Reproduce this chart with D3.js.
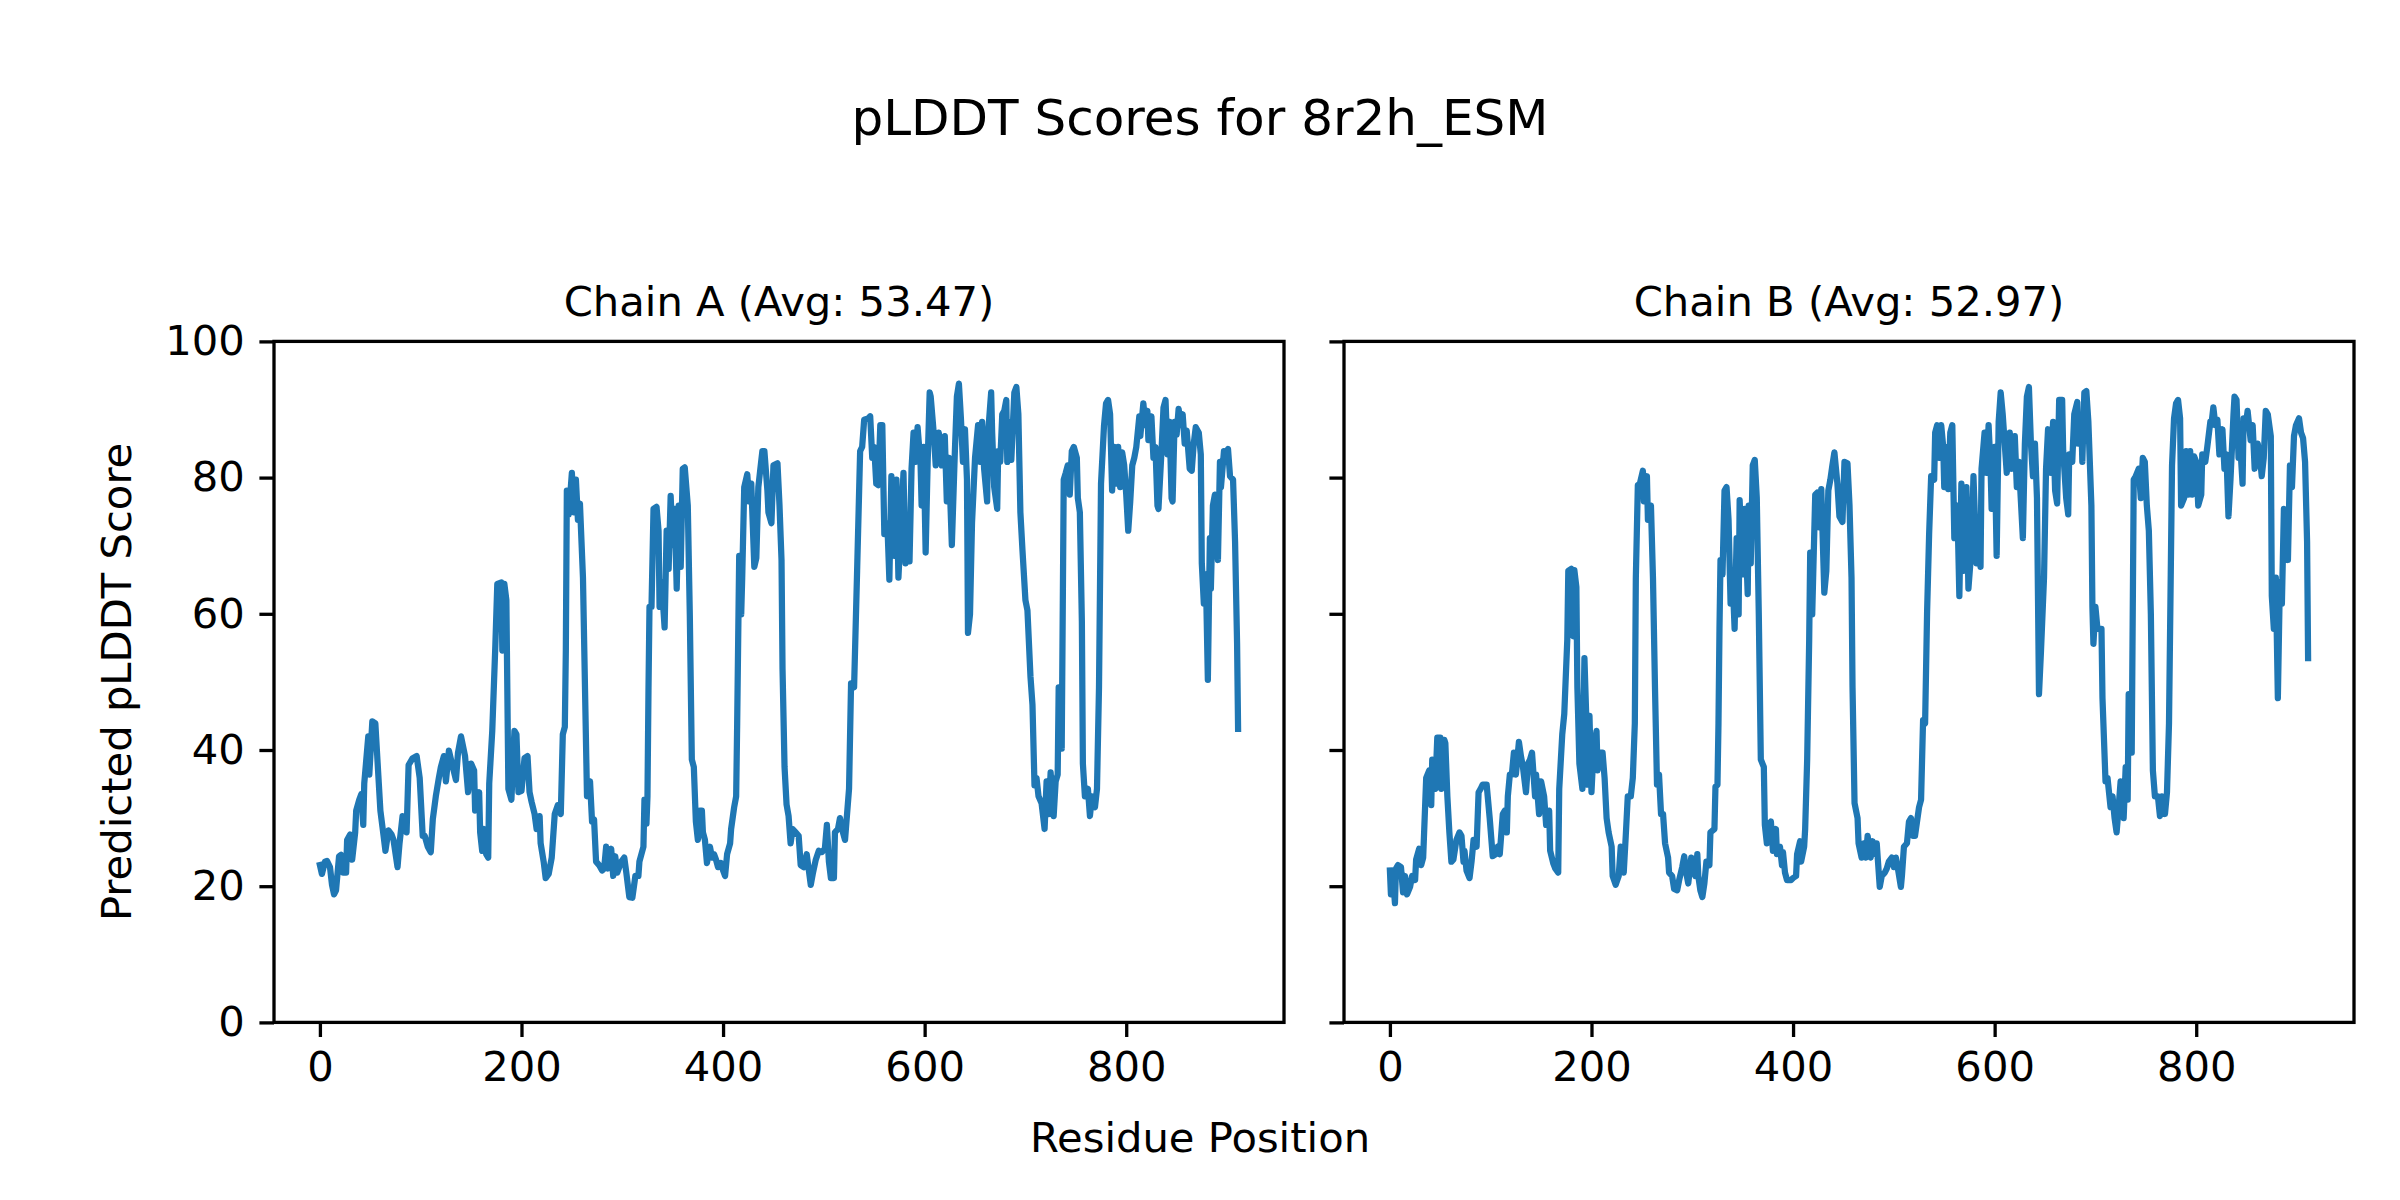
<!DOCTYPE html>
<html><head><meta charset="utf-8">
<script src="https://cdn.jsdelivr.net/npm/d3@7"></script>
<style>
body{margin:0;background:#fff}
svg{display:block}
text{font-family:"DejaVu Sans",sans-serif;fill:#000}
</style>
</head><body>
<svg id="chart" width="2400" height="1200"></svg>
<script>
// ---- data (residue position, predicted pLDDT score) ----
const chainAData = [[0,23.1],[2,21.8],[5,23.6],[7,23.7],[10,22.8],[12,20.2],[14,18.8],[16,19.4],[19,24.4],[21,24.6],[23,22.0],[26,22.0],[27,26.8],[30,27.6],[32,23.9],[35,27.9],[36,31.1],[39,32.7],[41,33.5],[43,29.0],[44,35.1],[48,42.0],[49,36.4],[52,44.2],[55,43.9],[58,36.2],[60,31.1],[63,27.6],[65,25.2],[68,28.2],[71,27.6],[73,26.8],[77,22.8],[79,26.3],[82,30.3],[86,27.9],[88,37.8],[92,38.8],[96,39.1],[99,35.9],[102,27.4],[104,27.4],[107,25.8],[110,25.0],[112,29.8],[115,33.2],[118,35.9],[120,37.5],[123,39.1],[125,35.4],[128,39.9],[131,38.0],[135,35.6],[137,39.6],[140,42.0],[144,39.1],[147,33.8],[150,38.0],[153,37.0],[154,31.1],[158,33.8],[159,27.9],[161,25.2],[163,28.4],[165,24.7],[167,24.2],[168,35.1],[171,42.8],[174,55.1],[176,64.4],[180,64.6],[181,54.6],[183,64.4],[185,62.0],[187,34.3],[190,32.7],[193,42.8],[195,42.3],[197,33.8],[200,34.0],[203,38.8],[206,39.1],[208,33.8],[210,32.4],[213,30.6],[215,28.4],[218,30.3],[219,26.3],[222,23.6],[224,21.2],[227,21.8],[230,24.2],[233,30.6],[236,31.9],[239,30.6],[241,42.3],[243,43.4],[244,54.6],[245,78.1],[247,74.6],[250,80.7],[252,74.9],[254,79.7],[256,73.8],[258,76.2],[261,65.3],[263,49.2],[265,33.2],[268,35.4],[270,29.5],[272,29.8],[274,23.6],[277,23.1],[280,22.3],[282,22.6],[284,25.8],[286,22.6],[289,25.5],[291,21.5],[293,24.4],[295,22.0],[299,23.6],[302,24.2],[304,22.0],[307,18.4],[310,18.3],[313,21.5],[316,21.5],[317,23.6],[321,25.8],[322,32.7],[324,29.2],[325,33.2],[326,48.7],[327,61.0],[329,61.0],[331,75.4],[334,75.7],[336,72.2],[337,61.0],[339,64.7],[342,58.0],[344,72.2],[346,66.6],[348,77.3],[350,70.1],[352,75.4],[354,63.7],[356,75.9],[358,66.9],[360,81.3],[362,81.5],[365,75.9],[367,59.9],[369,38.6],[371,37.5],[373,29.5],[375,26.8],[377,31.1],[379,31.1],[380,27.9],[382,26.8],[384,23.4],[387,25.8],[389,24.2],[391,24.7],[393,23.9],[395,22.8],[398,23.4],[400,22.3],[402,21.5],[404,24.7],[407,26.3],[408,28.4],[411,31.6],[413,33.2],[414,43.9],[415,56.2],[416,68.5],[418,59.9],[419,65.3],[421,78.6],[424,80.5],[426,76.5],[428,79.1],[431,66.9],[433,68.2],[435,78.6],[437,81.3],[439,83.9],[441,83.9],[444,78.1],[445,74.9],[448,73.3],[450,81.8],[454,82.1],[456,75.9],[458,67.9],[459,51.9],[461,37.5],[463,32.0],[465,30.3],[467,26.3],[469,28.4],[472,27.9],[475,27.4],[477,23.1],[480,22.8],[483,24.7],[487,20.2],[489,21.8],[492,23.9],[495,25.2],[498,25.0],[501,25.5],[503,29.0],[505,23.6],[507,21.2],[510,21.2],[511,27.9],[514,28.4],[516,30.0],[518,28.4],[521,26.8],[525,34.3],[527,49.8],[530,49.2],[533,66.3],[536,83.9],[538,84.5],[540,88.5],[544,88.7],[546,89.0],[548,82.9],[550,84.5],[552,79.1],[554,78.9],[556,87.7],[558,87.7],[560,71.7],[563,73.3],[565,65.0],[567,80.2],[570,68.5],[572,79.7],[574,65.3],[577,74.3],[579,80.7],[581,67.4],[583,72.2],[585,67.7],[587,81.3],[589,86.6],[591,82.3],[593,87.4],[596,81.8],[597,75.9],[599,84.5],[601,69.0],[603,82.3],[605,92.5],[606,91.9],[609,86.6],[611,81.8],[614,86.6],[617,81.8],[620,86.1],[622,76.5],[624,82.9],[627,70.1],[630,83.9],[632,91.9],[634,93.8],[636,88.7],[638,82.3],[640,87.1],[642,79.7],[643,57.2],[645,59.9],[647,73.3],[650,82.9],[653,87.7],[655,82.3],[657,88.2],[659,81.3],[662,76.5],[663,86.6],[666,92.5],[667,86.6],[669,78.6],[672,75.4],[673,83.9],[675,82.3],[677,89.3],[679,89.8],[681,91.4],[682,82.3],[685,88.2],[686,82.6],[689,92.5],[691,93.3],[693,89.3],[695,74.9],[697,69.5],[700,62.0],[702,60.5],[705,50.8],[707,46.6],[709,34.8],[711,35.9],[713,33.2],[716,32.2],[719,28.4],[721,35.4],[723,30.6],[725,36.7],[728,30.3],[730,35.4],[732,36.4],[733,49.2],[736,40.2],[738,79.7],[740,80.7],[742,81.8],[744,77.5],[746,83.9],[748,84.5],[751,82.9],[752,77.0],[754,74.9],[756,58.8],[757,38.0],[759,33.2],[762,34.3],[764,30.3],[766,33.2],[769,31.6],[771,34.3],[773,49.2],[775,79.1],[778,87.7],[780,90.9],[782,91.4],[784,89.3],[786,78.1],[788,84.5],[790,79.1],[792,84.5],[794,78.6],[796,83.7],[798,81.8],[800,77.5],[802,72.2],[804,76.5],[806,81.8],[808,82.9],[810,84.5],[813,89.0],[814,86.1],[817,90.9],[819,87.7],[821,89.8],[822,85.5],[825,89.0],[827,82.9],[829,84.5],[831,75.9],[832,75.4],[835,83.9],[837,90.3],[839,91.4],[841,83.4],[843,88.2],[845,77.0],[846,76.5],[848,88.2],[850,86.3],[852,90.1],[854,87.7],[856,89.3],[858,85.0],[860,86.9],[863,81.3],[865,81.0],[867,85.0],[869,87.4],[872,86.6],[874,83.4],[875,67.4],[877,61.5],[879,65.8],[881,50.3],[883,71.1],[884,63.7],[886,75.9],[888,77.5],[891,67.9],[893,82.3],[894,78.6],[897,83.9],[899,83.7],[901,84.2],[903,80.2],[906,79.7],[908,70.6],[910,55.6],[911,43.1]];

const chainBData = [[0,22.3],[1,18.8],[3,21.5],[5,17.5],[6,22.6],[8,23.1],[11,22.8],[13,19.1],[15,21.5],[17,18.8],[20,19.9],[22,21.5],[25,20.9],[26,23.9],[29,25.5],[31,23.1],[33,24.2],[36,35.9],[39,37.0],[41,31.9],[42,38.6],[45,34.3],[47,41.8],[50,41.8],[51,34.3],[54,41.5],[55,41.0],[57,33.2],[59,27.9],[61,23.6],[63,23.9],[66,26.8],[69,27.9],[71,27.4],[73,23.6],[74,25.2],[76,22.3],[79,21.2],[81,23.6],[83,26.8],[86,25.8],[88,33.8],[90,34.3],[92,34.9],[96,34.9],[99,30.0],[102,24.4],[105,24.7],[107,25.8],[109,24.7],[112,30.6],[114,31.1],[116,27.9],[117,33.2],[119,36.4],[121,36.4],[123,39.6],[125,36.4],[128,41.2],[130,39.1],[132,37.5],[135,33.8],[137,38.0],[139,38.6],[141,39.6],[144,33.2],[145,36.4],[148,30.6],[150,35.4],[153,33.2],[155,29.0],[158,31.1],[159,25.2],[162,23.4],[164,22.6],[167,22.0],[168,34.3],[171,42.3],[173,45.3],[176,56.2],[177,66.3],[180,66.6],[182,56.7],[183,66.4],[185,63.9],[186,49.2],[188,38.0],[191,34.3],[193,53.5],[195,43.9],[196,34.9],[198,45.0],[200,33.8],[202,39.9],[205,42.8],[206,37.0],[209,39.6],[211,39.6],[213,35.9],[215,30.0],[217,27.9],[220,25.8],[221,21.5],[224,20.2],[227,21.5],[229,25.8],[232,22.0],[234,27.4],[236,33.2],[239,33.2],[241,35.9],[243,43.9],[244,65.3],[246,78.9],[248,79.1],[251,81.0],[252,76.5],[255,80.2],[256,73.8],[259,75.9],[261,65.3],[263,49.2],[265,34.9],[267,36.4],[269,30.6],[271,30.6],[273,26.3],[276,24.2],[277,22.0],[280,21.5],[282,19.6],[285,19.4],[287,20.9],[290,22.8],[292,24.4],[294,22.0],[296,20.4],[299,24.2],[300,22.8],[303,21.5],[305,24.7],[306,21.5],[308,19.4],[310,18.4],[312,20.4],[314,23.6],[317,23.1],[318,27.9],[322,28.4],[323,34.6],[325,34.9],[326,43.9],[327,57.8],[328,67.9],[330,65.8],[332,78.1],[334,78.6],[336,73.8],[338,61.5],[340,65.3],[342,57.8],[344,71.1],[346,59.9],[347,76.7],[350,65.8],[352,75.4],[355,62.9],[356,75.9],[358,67.4],[360,81.8],[362,82.6],[364,77.0],[366,59.9],[368,38.6],[371,37.5],[372,29.0],[374,26.3],[376,29.0],[378,29.5],[380,25.2],[383,28.4],[384,24.7],[387,25.8],[389,23.1],[390,25.0],[392,22.0],[394,20.9],[398,20.9],[400,21.2],[403,21.5],[404,24.7],[407,26.6],[408,23.6],[411,25.8],[412,28.4],[414,38.6],[416,56.2],[417,69.0],[419,59.9],[421,71.7],[422,77.5],[424,77.8],[426,72.7],[428,78.3],[431,63.1],[433,66.3],[435,78.1],[437,79.7],[439,81.8],[441,83.7],[444,79.1],[446,74.3],[449,73.5],[451,82.3],[454,82.1],[456,75.9],[458,65.3],[459,49.2],[461,32.2],[464,30.0],[465,26.3],[468,24.2],[470,26.3],[472,24.2],[474,27.4],[477,24.2],[479,26.6],[482,24.7],[483,26.3],[486,19.9],[488,21.5],[491,22.0],[493,22.6],[495,23.6],[498,24.2],[500,22.8],[502,24.2],[504,22.6],[507,19.9],[508,21.5],[510,25.8],[513,26.3],[515,29.5],[517,30.0],[519,27.4],[521,27.4],[525,31.6],[527,32.7],[529,44.4],[531,43.9],[533,60.4],[535,71.7],[537,80.2],[540,79.7],[541,86.6],[543,87.7],[545,82.9],[547,87.7],[549,84.5],[550,78.6],[553,84.5],[554,78.3],[556,86.6],[558,87.7],[560,71.1],[563,75.9],[565,62.6],[567,79.1],[569,66.3],[572,78.6],[574,63.7],[577,69.5],[579,80.2],[582,67.4],[584,71.7],[586,66.9],[587,81.3],[590,86.6],[592,80.7],[594,87.7],[596,81.3],[597,75.4],[600,84.5],[602,68.5],[604,88.2],[606,92.5],[608,89.3],[610,85.0],[612,80.7],[615,86.6],[617,81.3],[620,86.1],[622,78.6],[624,82.3],[628,71.1],[630,85.0],[632,91.9],[634,93.3],[636,85.0],[638,80.2],[640,85.0],[642,77.0],[644,48.2],[646,54.6],[649,65.3],[651,81.3],[653,87.1],[656,80.7],[658,88.2],[660,78.1],[662,76.2],[664,91.4],[667,91.4],[668,83.9],[671,77.0],[673,74.6],[674,83.4],[677,82.3],[679,89.3],[682,91.1],[683,85.0],[686,88.7],[687,82.3],[689,92.5],[691,92.7],[693,88.2],[696,75.9],[697,61.0],[698,55.6],[700,61.0],[702,57.8],[706,57.8],[707,47.6],[710,35.4],[712,35.9],[715,31.6],[717,33.2],[719,30.0],[721,27.9],[723,31.6],[725,35.4],[728,30.0],[730,37.5],[732,32.7],[733,48.2],[736,39.6],[738,79.7],[740,80.2],[743,81.3],[745,77.0],[747,82.9],[749,82.3],[751,75.9],[753,72.2],[755,59.9],[757,37.0],[759,33.2],[762,33.2],[764,30.3],[766,33.2],[769,30.6],[771,33.8],[773,43.9],[776,81.8],[778,88.7],[780,90.9],[782,91.4],[784,88.7],[785,75.9],[788,77.0],[790,83.9],[792,77.5],[794,83.9],[796,77.5],[798,83.1],[800,82.3],[802,75.9],[805,77.5],[806,83.4],[809,82.3],[811,84.5],[814,88.2],[815,87.7],[817,90.3],[819,87.7],[821,88.5],[823,83.4],[826,87.1],[828,81.3],[830,83.4],[832,74.3],[834,79.7],[837,89.3],[838,91.9],[840,91.4],[842,82.9],[844,83.9],[846,79.1],[847,88.7],[850,88.7],[851,89.8],[854,85.5],[856,87.7],[858,81.3],[861,85.0],[863,83.4],[865,80.2],[867,82.9],[869,89.8],[871,89.3],[874,86.1],[875,62.6],[877,57.8],[879,65.3],[881,47.6],[883,64.7],[885,61.5],[887,75.4],[889,74.9],[891,67.9],[893,81.8],[895,78.6],[897,86.1],[899,87.7],[902,88.7],[904,86.6],[906,85.8],[908,82.3],[910,70.6],[911,53.5]];

const chainTitles = ["Chain A (Avg: 53.47)", "Chain B (Avg: 52.97)"];
const xTickValues = [0, 200, 400, 600, 800];
const yTickValues = [0, 20, 40, 60, 80, 100];
const figureTitle = "pLDDT Scores for 8r2h_ESM";
const xAxisLabel = "Residue Position";
const yAxisLabel = "Predicted pLDDT Score";

(function draw() {
  const svg = d3.select("#chart");
  const plotTop = 341.4, plotBottom = 1022.4;
  const panels = [
    {data: chainAData, title: chainTitles[0], left: 274, right: 1284, showYLabels: true},
    {data: chainBData, title: chainTitles[1], left: 1344, right: 2354, showYLabels: false}
  ];
  const y = d3.scaleLinear().domain([0, 100]).range([plotBottom, plotTop]);
  const tickLen = 14.6, tickPad = 14.6, tickFont = 41.7, lw = 3.3;

  panels.forEach(p => {
    const ext = d3.extent(p.data, d => d[0]);
    const pad = (ext[1] - ext[0]) * 0.05;
    const x = d3.scaleLinear().domain([ext[0] - pad, ext[1] + pad]).range([p.left, p.right]);
    const g = svg.append("g");

    g.append("path")
      .datum(p.data)
      .attr("fill", "none")
      .attr("stroke", "#1f77b4")
      .attr("stroke-width", 6.25)
      .attr("stroke-linejoin", "round")
      .attr("stroke-linecap", "square")
      .attr("d", d3.line().x(d => x(d[0])).y(d => y(d[1])));

    const xa = g.append("g").attr("transform", `translate(0,${plotBottom})`)
      .call(d3.axisBottom(x).tickValues(xTickValues).tickSize(tickLen).tickPadding(tickPad).tickSizeOuter(0));
    xa.select(".domain").remove();
    xa.selectAll(".tick line").attr("stroke", "#000").attr("stroke-width", lw);
    xa.selectAll(".tick text").attr("font-size", tickFont).attr("font-family", "DejaVu Sans").attr("fill", "#000");

    const ya = g.append("g").attr("transform", `translate(${p.left},0)`)
      .call(d3.axisLeft(y).tickValues(yTickValues).tickSize(tickLen).tickPadding(tickPad).tickSizeOuter(0)
        .tickFormat(p.showYLabels ? d3.format("d") : () => ""));
    ya.select(".domain").remove();
    ya.selectAll(".tick line").attr("stroke", "#000").attr("stroke-width", lw);
    ya.selectAll(".tick text").attr("font-size", tickFont).attr("font-family", "DejaVu Sans").attr("fill", "#000");

    g.append("rect")
      .attr("x", p.left).attr("y", plotTop)
      .attr("width", p.right - p.left).attr("height", plotBottom - plotTop)
      .attr("fill", "none").attr("stroke", "#000").attr("stroke-width", lw);

    g.append("text")
      .attr("x", (p.left + p.right) / 2).attr("y", 301.5)
      .attr("text-anchor", "middle").attr("dominant-baseline", "central")
      .attr("font-size", 41.7)
      .text(p.title);
  });

  svg.append("text")
    .attr("x", 1200).attr("y", 118)
    .attr("text-anchor", "middle").attr("dominant-baseline", "central")
    .attr("font-size", 50)
    .text(figureTitle);

  svg.append("text")
    .attr("x", 1200).attr("y", 1137)
    .attr("text-anchor", "middle").attr("dominant-baseline", "central")
    .attr("font-size", 41.7)
    .text(xAxisLabel);

  svg.append("text")
    .attr("transform", `translate(116,${(plotTop + plotBottom) / 2}) rotate(-90)`)
    .attr("text-anchor", "middle").attr("dominant-baseline", "central")
    .attr("font-size", 41.7)
    .text(yAxisLabel);
})();
</script>
</body></html>
